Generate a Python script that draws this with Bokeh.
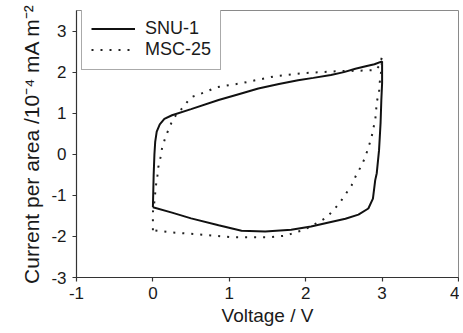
from bokeh.plotting import figure
from bokeh.models import FixedTicker, Legend, LegendItem, Range1d
from bokeh.embed import file_html
from bokeh.resources import INLINE

# SNU-1: forward (upper) branch then reverse (lower) branch
snu_v_up = [0.00, 0.005, 0.01, 0.02, 0.03, 0.05, 0.09, 0.15, 0.25, 0.50, 0.86, 1.10, 1.38, 1.65, 1.90, 2.10, 2.33, 2.50, 2.65, 2.80, 2.90, 3.00]
snu_i_up = [-1.29, -0.90, -0.50, 0.00, 0.30, 0.55, 0.73, 0.86, 0.95, 1.10, 1.32, 1.45, 1.60, 1.71, 1.80, 1.86, 1.93, 2.00, 2.08, 2.15, 2.19, 2.26]
snu_v_dn = [3.00, 3.00, 2.99, 2.98, 2.96, 2.93, 2.91, 2.88, 2.82, 2.69, 2.52, 2.33, 2.07, 1.81, 1.47, 1.16, 0.86, 0.50, 0.25, 0.00]
snu_i_dn = [2.26, 1.73, 1.32, 0.76, 0.10, -0.46, -0.63, -1.08, -1.32, -1.47, -1.57, -1.65, -1.76, -1.84, -1.88, -1.86, -1.73, -1.56, -1.42, -1.29]

# MSC-25
msc_v_up = [0.00, 0.00, 0.00, 0.02, 0.03, 0.04, 0.06, 0.07, 0.10, 0.12, 0.16, 0.21, 0.27, 0.36, 0.50, 0.68, 0.83, 0.99, 1.16, 1.34, 1.60, 2.00, 2.40, 2.80, 2.92, 2.96, 3.00]
msc_i_up = [-1.85, -1.65, -1.41, -1.15, -0.95, -0.76, -0.51, -0.32, -0.07, 0.15, 0.39, 0.63, 0.88, 1.07, 1.39, 1.51, 1.63, 1.68, 1.73, 1.80, 1.90, 1.98, 2.02, 2.04, 2.05, 2.15, 2.37]
msc_v_dn = [3.00, 2.99, 2.97, 2.96, 2.93, 2.92, 2.91, 2.88, 2.86, 2.82, 2.78, 2.72, 2.66, 2.60, 2.53, 2.45, 2.36, 2.27, 2.16, 1.97, 1.86, 1.75, 1.51, 1.03, 0.59, 0.24, 0.00]
msc_i_dn = [2.37, 2.05, 1.76, 1.51, 1.27, 1.02, 0.83, 0.59, 0.39, 0.17, -0.07, -0.31, -0.51, -0.76, -0.95, -1.17, -1.37, -1.54, -1.66, -1.85, -1.90, -1.98, -2.02, -2.02, -1.95, -1.90, -1.85]

x_ticks = [-1, 0, 1, 2, 3, 4]
x_tick_labels = ["-1", "0", "1", "2", "3", "4"]
y_ticks = [-3, -2, -1, 0, 1, 2, 3]
y_tick_labels = ["-3", "-2", "-1", "0", "1", "2", "3"]

series_names = ["SNU-1", "MSC-25"]
x_title = "Voltage / V"
y_title = "Current per area /10\u207b\u2074 mA m\u207b\u00b2"

FONT = "Liberation Sans"
FRAME_H = 267
LEGEND_H = 60

p = figure(width=459, height=331, output_backend="svg", toolbar_location=None,
           x_range=Range1d(-1, 4), y_range=Range1d(-3, 3.5),
           min_border_left=76, min_border_right=1, min_border_top=10, min_border_bottom=54)

p.xgrid.visible = False
p.ygrid.visible = False
p.background_fill_color = "white"
p.border_fill_color = "white"
p.outline_line_color = "#8a8a8a"
p.outline_line_width = 1

for ax in (p.xaxis[0], p.yaxis[0]):
    ax.axis_line_color = "#333333"
    ax.axis_line_width = 1.2
    ax.major_tick_line_color = "#333333"
    ax.major_tick_line_width = 1.2
    ax.major_tick_in = 0
    ax.major_tick_out = 4
    ax.minor_tick_line_color = None
    ax.major_label_text_font = FONT
    ax.major_label_text_font_size = "17px"
    ax.major_label_text_color = "#1a1a1a"
    ax.axis_label_text_font = FONT
    ax.axis_label_text_font_style = "normal"
    ax.axis_label_text_color = "#1a1a1a"

p.xaxis[0].ticker = FixedTicker(ticks=x_ticks)
p.xaxis[0].major_label_overrides = {t: l for t, l in zip(x_ticks, x_tick_labels)}
p.yaxis[0].ticker = FixedTicker(ticks=y_ticks)
p.yaxis[0].major_label_overrides = {t: l for t, l in zip(y_ticks, y_tick_labels)}
p.xaxis[0].major_label_standoff = 5
p.yaxis[0].major_label_standoff = 6

p.xaxis[0].axis_label = x_title
p.xaxis[0].axis_label_text_font_size = "19px"
p.xaxis[0].axis_label_standoff = 3
p.yaxis[0].axis_label = y_title
p.yaxis[0].axis_label_text_font_size = "21px"
p.yaxis[0].axis_label_standoff = 5

r1 = p.line(snu_v_up + snu_v_dn, snu_i_up + snu_i_dn, line_color="#111111", line_width=2)
r2 = p.line(msc_v_up + msc_v_dn, msc_i_up + msc_i_dn, line_color="#222222", line_width=2,
            line_dash="2 7")

legend = Legend(items=[LegendItem(label=series_names[0], renderers=[r1]),
                       LegendItem(label=series_names[1], renderers=[r2])],
                location=(5, FRAME_H - LEGEND_H))
legend.margin = 0
legend.padding = 9
legend.spacing = 0
legend.glyph_width = 44
legend.label_standoff = 10
legend.label_height = 21
legend.glyph_height = 21
legend.label_text_font = FONT
legend.label_text_font_size = "18px"
legend.label_text_color = "#1a1a1a"
legend.border_line_color = "#555555"
legend.border_line_width = 1
legend.background_fill_color = "white"
legend.background_fill_alpha = 1
p.add_layout(legend)

open("out.html", "w").write(file_html(p, INLINE))
